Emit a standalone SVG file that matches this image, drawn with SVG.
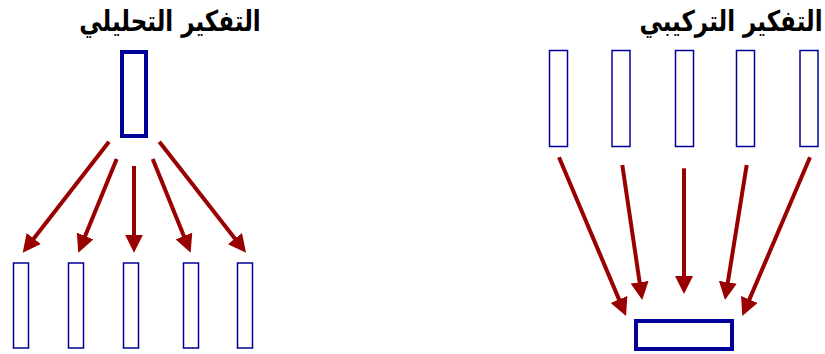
<svg xmlns="http://www.w3.org/2000/svg" width="825" height="354" viewBox="0 0 825 354">
<style>
.title{font-family:"DejaVu Sans","Noto Sans",sans-serif;font-weight:bold;font-size:23px;fill:#000;text-anchor:middle}
.big{fill:#fff;stroke:#000099;stroke-width:4}
.small{fill:#fff;stroke:#000099;stroke-width:1.5}
.arr{stroke:#990000;stroke-width:4;fill:none;marker-end:url(#ah)}
</style>
<defs>
<marker id="ah" markerUnits="userSpaceOnUse" markerWidth="18" markerHeight="18" refX="4" refY="9" orient="auto">
<path d="M0,0 L18,9 L0,18 z" fill="#990000"/>
</marker>
</defs>
<rect width="825" height="354" fill="#fff"/>
<g id="title-analytic"><text class="title" transform="translate(170,31) scale(1,1.25)" x="0" y="0" direction="rtl">التفكير التحليلي</text></g>
<g id="title-synthetic"><text class="title" transform="translate(731,31) scale(1,1.25)" x="0" y="0" direction="rtl">التفكير التركيبي</text></g>
<g id="analytic-source"><rect class="big" x="122" y="52" width="24" height="84"/></g>
<g id="analytic-part-1"><rect class="small" x="13.5" y="263" width="15" height="85"/></g>
<g id="analytic-part-2"><rect class="small" x="68.5" y="263" width="15" height="85"/></g>
<g id="analytic-part-3"><rect class="small" x="123.5" y="263" width="15" height="85"/></g>
<g id="analytic-part-4"><rect class="small" x="183.5" y="263" width="15" height="85"/></g>
<g id="analytic-part-5"><rect class="small" x="237.5" y="263" width="15" height="85"/></g>
<g id="synthetic-part-1"><rect class="small" x="549.5" y="50.5" width="18" height="96"/></g>
<g id="synthetic-part-2"><rect class="small" x="612" y="50.5" width="18" height="96"/></g>
<g id="synthetic-part-3"><rect class="small" x="675.5" y="50.5" width="18" height="96"/></g>
<g id="synthetic-part-4"><rect class="small" x="736.5" y="50.5" width="18" height="96"/></g>
<g id="synthetic-part-5"><rect class="small" x="800" y="50.5" width="18" height="96"/></g>
<g id="synthetic-result"><rect class="big" x="636" y="321" width="96" height="28"/></g>
<g id="connectors">
<line class="arr" x1="109" y1="141.7" x2="31.3" y2="241.7"/>
<line class="arr" x1="116.7" y1="159" x2="83.6" y2="239.7"/>
<line class="arr" x1="134" y1="166" x2="134" y2="238.7"/>
<line class="arr" x1="152.7" y1="159" x2="185.4" y2="239.7"/>
<line class="arr" x1="159.3" y1="141.7" x2="237.4" y2="241.7"/>
<line class="arr" x1="559" y1="157.3" x2="620.6" y2="303.1"/>
<line class="arr" x1="622.3" y1="165" x2="640.2" y2="286.2"/>
<line class="arr" x1="684" y1="168.3" x2="684" y2="280"/>
<line class="arr" x1="746.7" y1="165" x2="727.2" y2="286.2"/>
<line class="arr" x1="810" y1="157.3" x2="747.8" y2="303.1"/>
</g>
</svg>
